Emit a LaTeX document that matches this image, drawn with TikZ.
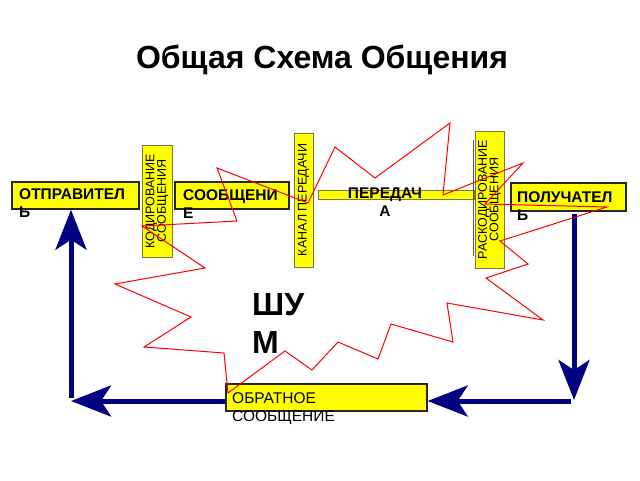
\documentclass[tikz,border=0pt]{standalone}
\usepackage{fontspec}
\setmainfont{Liberation Sans}
\usetikzlibrary{arrows.meta}
\definecolor{navy}{RGB}{0,0,128}
\definecolor{ylw}{RGB}{255,255,0}
\tikzset{
 hbox/.style={draw=black!85, line width=1.4pt, fill=ylw, inner sep=0pt},
 vbox/.style={draw=black!60!yellow, line width=0.9pt, fill=ylw, inner sep=0pt},
 btext/.style={font=\fontsize{15.5}{18}\selectfont\bfseries, inner sep=0pt, align=left, anchor=north west},
 vtext/.style={font=\fontsize{12.5}{11.5}\selectfont, inner sep=0pt, align=center, rotate=90},
 fb/.style={draw=navy, line width=5pt, -{Stealth[length=40pt,width=31pt,inset=10pt]}},
 noise/.style={draw=red, line width=1pt, line join=miter}
}
\begin{document}
\begin{tikzpicture}[x=1pt,y=-1pt]
\useasboundingbox (0,0) rectangle (640,480);
\node[font=\fontsize{32}{38}\selectfont\bfseries, inner sep=0pt] (title) at (322,60) {Общая Схема Общения};
% boxes
\node[hbox, minimum width=127pt, minimum height=27pt] (otp) at (75.5,195.5) {};
\node[vbox, minimum width=30pt, minimum height=112pt] (kod) at (157,201) {};
\node[hbox, minimum width=114pt, minimum height=27pt] (soo) at (232,195.5) {};
\node[vbox, minimum width=19pt, minimum height=134pt] (kan) at (303.5,200) {};
\node[vbox, minimum width=156pt, minimum height=9pt] (bar) at (396,194.5) {};
\draw[black!65, line width=1.6pt] (473.5,140) -- (473.5,256);
\node[vbox, minimum width=29pt, minimum height=137pt] (ras) at (489.5,199.5) {};
\node[hbox, minimum width=115pt, minimum height=28pt] (pol) at (568.5,197) {};
\node[hbox, minimum width=201pt, minimum height=27pt] (obr) at (326.5,397.5) {};
% texts
\node[btext] (totp) at (19,188) {ОТПРАВИТЕЛ\\Ь};
\node[btext] (tsoo) at (183,189) {СООБЩЕНИ\\Е};
\node[btext] (tpol) at (517,191) {ПОЛУЧАТЕЛ\\Ь};
\node[btext, align=center, anchor=north] (tper) at (385,188) {ПЕРЕДАЧ\\А};
\node[btext, font=\fontsize{15.5}{18}\selectfont] (tobr) at (232,392) {ОБРАТНОЕ\\СООБЩЕНИЕ};
\node[vtext] (tkod) at (kod.center) {КОДИРОВАНИЕ\\СООБЩЕНИЯ};
\node[vtext] (tkan) at (kan.center) {КАНАЛ ПЕРЕДАЧИ};
\node[vtext] (tras) at (ras.center) {РАСКОДИРОВАНИЕ\\СООБЩЕНИЯ};
\node[font=\fontsize{32}{38}\selectfont\bfseries, anchor=north west, align=left, inner sep=0pt] (shum) at (252,293) {ШУ\\М};
% feedback arrows
\coordinate (upstart) at (71,398);
\coordinate (leftend) at (71,401);
\coordinate (downtop) at (574,214);
\coordinate (downend) at (574,400);
\coordinate (rightstart) at (571,401);
\draw[fb] (upstart) -- (otp.south -| upstart);
\draw[fb] (obr.west |- leftend) -- (leftend);
\draw[fb] (downtop) -- (downend);
\draw[fb] (rightstart) -- (obr.east |- rightstart);
% noise
\draw[noise] (217,168) -- (237,221) -- (142,226) -- (205,268) -- (115,284) -- (191,317) -- (144,347) -- (224,353) -- (228,393) -- (285,351) -- (312,370) -- (338,342) -- (378,359) -- (391,324) -- (453,342) -- (447,303) -- (543,320) -- (486,278) -- (528,264) -- (500,241) -- (607,207) -- (485,204) -- (523,163) -- (443,195) -- (450,123) -- (375,178) -- (335,147) -- (308,203) -- cycle;
\end{tikzpicture}
\end{document}
